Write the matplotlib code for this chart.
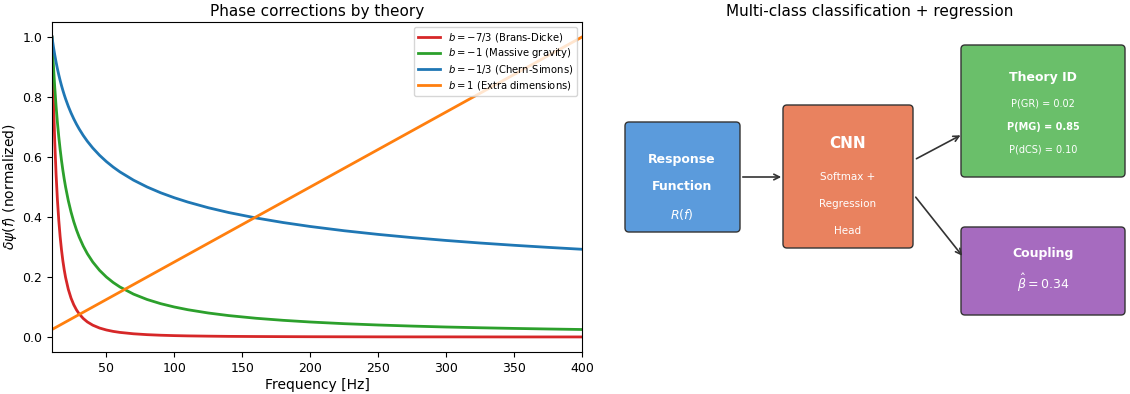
import matplotlib
matplotlib.use("Agg")
import matplotlib.pyplot as plt
from matplotlib.patches import FancyBboxPatch

# values (normalized phase corrections vs frequency)
freq = [10, 11, 12, 13, 14, 15, 16, 17, 18, 19, 20, 22, 24, 26, 28, 30, 33, 36, 40,
        45, 50, 55, 60, 70, 80, 90, 100, 110, 125, 140, 160, 180, 200, 225, 250,
        275, 300, 325, 350, 375, 400]
brans_dicke = [1.0, 0.8006, 0.6535, 0.5422, 0.4561, 0.3882, 0.3340, 0.2899, 0.2537,
               0.2237, 0.1984, 0.1589, 0.1297, 0.1076, 0.0905, 0.0770, 0.0617, 0.0503,
               0.0394, 0.0299, 0.0234, 0.0187, 0.0153, 0.0107, 0.0078, 0.0059, 0.0046,
               0.0037, 0.0028, 0.0021, 0.0016, 0.0012, 0.0009, 0.0007, 0.0005, 0.0004,
               0.0004, 0.0003, 0.0002, 0.0002, 0.0002]
massive_gravity = [1.0, 0.9091, 0.8333, 0.7692, 0.7143, 0.6667, 0.625, 0.5882, 0.5556,
                   0.5263, 0.5, 0.4545, 0.4167, 0.3846, 0.3571, 0.3333, 0.3030, 0.2778,
                   0.25, 0.2222, 0.2, 0.1818, 0.1667, 0.1429, 0.125, 0.1111, 0.1,
                   0.0909, 0.08, 0.0714, 0.0625, 0.0556, 0.05, 0.0444, 0.04, 0.0364,
                   0.0333, 0.0308, 0.0286, 0.0267, 0.025]
chern_simons = [1.0, 0.9687, 0.9410, 0.9163, 0.8939, 0.8736, 0.8550, 0.8379, 0.8221,
                0.8074, 0.7937, 0.7689, 0.7469, 0.7273, 0.7095, 0.6934, 0.6717, 0.6525,
                0.6300, 0.6057, 0.5848, 0.5665, 0.5503, 0.5228, 0.5000, 0.4807, 0.4642,
                0.4497, 0.4309, 0.4149, 0.3969, 0.3816, 0.3684, 0.3542, 0.3420, 0.3313,
                0.3218, 0.3133, 0.3057, 0.2988, 0.2924]
extra_freq = [10, 400]
extra_dims = [0.025, 1.0]

labels = [r"$b = -7/3$ (Brans-Dicke)", r"$b = -1$ (Massive gravity)",
          r"$b = -1/3$ (Chern-Simons)", r"$b = 1$ (Extra dimensions)"]
colors = ["#d62728", "#2ca02c", "#1f77b4", "#ff7f0e"]

fig = plt.figure(figsize=(11.3, 3.94), dpi=100)

# left panel
ax = fig.add_axes([52/1130, 42/394, 530/1130, 330/394])
ax.plot(freq, brans_dicke, color=colors[0], lw=2, label=labels[0])
ax.plot(freq, massive_gravity, color=colors[1], lw=2, label=labels[1])
ax.plot(freq, chern_simons, color=colors[2], lw=2, label=labels[2])
ax.plot(extra_freq, extra_dims, color=colors[3], lw=2, label=labels[3])
ax.set_xlim(10, 400)
ax.set_ylim(-0.05, 1.05)
ax.set_xticks([50, 100, 150, 200, 250, 300, 350, 400])
ax.set_yticks([0.0, 0.2, 0.4, 0.6, 0.8, 1.0])
ax.tick_params(labelsize=9)
ax.set_xlabel("Frequency [Hz]", fontsize=10, labelpad=2)
ax.set_ylabel(r"$\delta\psi(f)$ (normalized)", fontsize=10)
ax.yaxis.set_label_coords(-0.062, 0.5)
ax.set_title("Phase corrections by theory", fontsize=11, pad=4)
ax.legend(loc="upper right", fontsize=7.2, handlelength=2.2, borderpad=0.4,
          labelspacing=0.25)

# right panel: pipeline diagram (pixel-like coords, y down)
ax2 = fig.add_axes([610/1130, 42/394, 520/1130, 330/394])
ax2.set_xlim(610, 1130)
ax2.set_ylim(352, 22)
ax2.axis("off")
ax2.set_title("Multi-class classification + regression", fontsize=11, pad=4)

boxes = [
    (625, 122, 115, 110, "#5b9bdc"),
    (783, 105, 130, 143, "#e9825f"),
    (961, 45, 164, 132, "#6abf6a"),
    (961, 227, 164, 88, "#a66bbf"),
]
for x, y, w, h, c in boxes:
    ax2.add_patch(FancyBboxPatch((x, y), w, h, boxstyle="round,pad=0,rounding_size=4",
                                 fc=c, ec="#333333", lw=1.0))

texts = [
    (682, 160, "Response", 9, "bold"),
    (682, 187, "Function", 9, "bold"),
    (682, 214, r"$R(f)$", 9, "normal"),
    (848, 143, "CNN", 11, "bold"),
    (848, 177, "Softmax +", 7.5, "normal"),
    (848, 204, "Regression", 7.5, "normal"),
    (848, 231, "Head", 7.5, "normal"),
    (1043, 77, "Theory ID", 9, "bold"),
    (1043, 104, "P(GR) = 0.02", 7, "normal"),
    (1043, 127, "P(MG) = 0.85", 7, "bold"),
    (1043, 149, "P(dCS) = 0.10", 7, "normal"),
    (1043, 254, "Coupling", 9, "bold"),
    (1043, 283, r"$\hat{\beta} = 0.34$", 9, "normal"),
]
for x, y, s, fs, fw in texts:
    ax2.text(x, y, s, ha="center", va="center", fontsize=fs, fontweight=fw, color="white")

arrows = [((740, 177), (784, 177)), ((914, 160), (963, 134)), ((914, 195), (964, 258))]
for start, end in arrows:
    ax2.annotate("", xy=end, xytext=start,
                 arrowprops=dict(arrowstyle="->", color="#333333", lw=1.2))

fig.savefig("out.png", dpi=100)
